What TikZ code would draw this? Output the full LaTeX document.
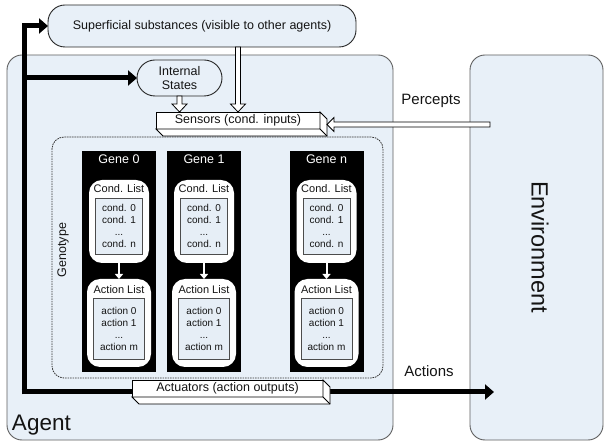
\documentclass[tikz,border=0pt]{standalone}
\usepackage{fontspec}
\setmainfont{Liberation Sans}
\usetikzlibrary{arrows.meta,calc}
\definecolor{lb}{RGB}{232,240,248}
\definecolor{lbin}{RGB}{230,238,246}
\definecolor{edge}{RGB}{95,95,95}
\definecolor{txt}{RGB}{20,20,20}
\newcommand\hollowdown[2]{\draw[hollow] let \p1=(#1), \p2=(#2) in
  (\x1-2.5pt,\y1) -- (\x1-2.5pt,\y2+8pt) -- (\x1-7.5pt,\y2+8pt) -- (\x1,\y2)
  -- (\x1+7.5pt,\y2+8pt) -- (\x1+2.5pt,\y2+8pt) -- (\x1+2.5pt,\y1) -- cycle;}
\newcommand\hollowleft[2]{\draw[hollow] let \p1=(#1), \p2=(#2) in
  (\x1,\y1+2.5pt) -- (\x2+7pt,\y1+2.5pt) -- (\x2+7pt,\y1+7pt) -- (\x2,\y1)
  -- (\x2+7pt,\y1-7pt) -- (\x2+7pt,\y1-2.5pt) -- (\x1,\y1-2.5pt) -- cycle;}
\begin{document}
\begin{tikzpicture}[x=1pt,y=-1pt,
  every node/.style={inner sep=0pt, outer sep=0pt, text=txt},
  fs/.style={font=\fontsize{12.5}{14}\selectfont},
  bigbox/.style={draw=edge, line width=0.9pt, fill=lb, rounded corners=15pt},
  pill/.style={draw=black!85, line width=0.9pt, fill=lb},
  face/.style={draw=black, line width=0.8pt, fill=white},
  hollow/.style={draw=black, line width=0.8pt, fill=white, line join=miter},
  thickarr/.style={line width=5pt, -{Triangle[length=9pt,width=15pt]}},
  genebox/.style={fill=black},
  listbox/.style={fill=white, rounded corners=13pt},
  innerbox/.style={draw=black!70, line width=0.7pt, fill=lbin},
  items/.style={font=\fontsize{10}{12.2}\selectfont, align=center},
  listtitle/.style={font=\fontsize{11}{13}\selectfont},
  genelabel/.style={font=\fontsize{12.5}{14}\selectfont, text=white},
  genotype/.style={draw=black!80, line width=0.8pt, dash pattern=on 1.6pt off 0.9pt, rounded corners=12pt}
]
\useasboundingbox (0,0) rectangle (605,443);
\fill[white] (0,0) rectangle (605,443);

% main containers
\node[bigbox, minimum width=386, minimum height=385] (agent) at (200,247.5) {};
\node[bigbox, minimum width=133, minimum height=385] (env) at (536.5,247.5) {};
\node[pill, rounded corners=17pt, minimum width=308, minimum height=42, fs] (sup) at (202,26)
  {Superficial substances (visible to other agents)};
\node[pill, rounded corners=18pt, minimum width=85, minimum height=36, fs, align=center] (ist) at (179.5,78)
  {Internal\\States};

% genotype
\node[genotype, minimum width=331, minimum height=241] (geno) at (217.5,257.5) {};
\node[fs, rotate=90] (genol) at (63,250) {Genotype};

\foreach \cx/\id in {119/0, 204/1, 326.5/n} {
  \node[genebox, minimum width=74, minimum height=221] (gene\id) at (\cx,261.5) {};
  \node[genelabel] (gl\id) at (\cx,159) {Gene \id};
  \node[listbox, minimum width=60, minimum height=83] (cl\id) at (\cx,221.5) {};
  \node[listtitle] (clt\id) at (\cx,188.5) {Cond. List};
  \node[innerbox, minimum width=47, minimum height=56] (ci\id) at (\cx,226) {};
  \node[items] (cit\id) at (\cx,226) {cond. 0\\cond. 1\\...\\cond. n};
  \node[listbox, minimum width=64, minimum height=88] (al\id) at (\cx,323) {};
  \node[listtitle] (alt\id) at (\cx,289.5) {Action List};
  \node[innerbox, minimum width=51, minimum height=61] (ai\id) at (\cx,328.5) {};
  \node[items] (ait\id) at (\cx,329) {action 0\\action 1\\...\\action m};
  \draw[white, line width=2pt, -{Triangle[length=5pt,width=8pt]}] (cl\id.south) -- (al\id.north);
}

% sensors
\node[face, minimum width=164, minimum height=17, fs] (sens) at (238,120.5) {Sensors (cond. inputs)};
\draw[face] (sens.south west) -- ++(7,7) -- ($(sens.south east)+(7,7)$) -- ($(sens.north east)+(7,7)$)
  -- (sens.north east) -- (sens.south east) -- cycle;
\draw[line width=0.8pt] (sens.south east) -- ++(7,7);

\hollowdown{sup.south -| sens.north}{sens.north}
\hollowdown{ist.south}{ist.south |- sens.north}
\coordinate (pstart) at (490,124.5);
\coordinate (ptip) at ($(sens.east)+(7,4)$);
\hollowleft{pstart}{ptip}

% thick action lines
\coordinate (corner) at (24,392);
\coordinate (acttip) at (494,392);
\draw[thickarr] ($(corner)+(0,2.5)$) |- (sup.west);
\draw[thickarr] (corner |- ist.west) -- (ist.west);
\draw[thickarr] ($(corner)+(-2.5,0)$) -- (acttip);

% actuators
\node[face, minimum width=191, minimum height=17, fs] (act) at (227.5,388.5) {Actuators (action outputs)};
\draw[face] (act.south west) -- ++(7,7) -- ($(act.south east)+(7,7)$) -- ($(act.north east)+(7,7)$)
  -- (act.north east) -- (act.south east) -- cycle;
\draw[line width=0.8pt] (act.south east) -- ++(7,7);

% labels
\node[font=\fontsize{15}{18}\selectfont] (perc) at (431,101) {Percepts};
\node[font=\fontsize{15}{18}\selectfont] (actl) at (429,371) {Actions};
\node[font=\fontsize{22.5}{26}\selectfont, anchor=base west] (agl) at (12,430) {Agent};
\node[font=\fontsize{23.5}{26}\selectfont, rotate=-90] (envl) at (540,247) {Environment};
\end{tikzpicture}
\end{document}
